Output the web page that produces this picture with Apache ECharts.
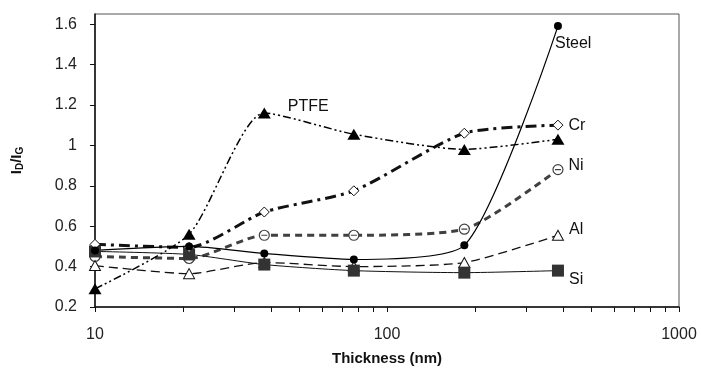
<!DOCTYPE html>
<html>
<head>
<meta charset="utf-8">
<script src="https://cdn.jsdelivr.net/npm/echarts@6/dist/echarts.min.js"></script>
<style>
  html, body { margin: 0; padding: 0; background: #fff; }
  #chart { width: 701px; height: 371px; }
</style>
</head>
<body>
<div id="chart"></div>
<script>
// thickness values (nm)
const thickness = [10, 21, 38, 77, 184, 385];

const steel = [0.48, 0.50, 0.465, 0.435, 0.505, 1.59];
const cr    = [0.51, 0.495, 0.67, 0.775, 1.06, 1.10];
const ni    = [0.45, 0.44, 0.555, 0.555, 0.585, 0.88];
const al    = [0.405, 0.365, 0.42, 0.40, 0.42, 0.555];
const si    = [0.475, 0.46, 0.41, 0.38, 0.37, 0.38];
const ptfe  = [0.29, 0.56, 1.16, 1.055, 0.98, 1.03];

const yTicks = [0.2, 0.4, 0.6, 0.8, 1, 1.2, 1.4, 1.6];
const xMinorTicks = [10, 20, 30, 40, 50, 60, 70, 80, 90, 100, 200, 300, 400, 500, 600, 700, 800, 900, 1000];

const FONT = 'Liberation Sans, Arial, sans-serif';

function points(values, labelText, labelIndex, labelOpts) {
  return values.map((v, i) => {
    const item = { value: [thickness[i], v] };
    if (i === labelIndex) {
      item.label = Object.assign({
        show: true,
        formatter: labelText,
        position: 'right',
        distance: 5,
        color: '#111',
        fontSize: 16,
        fontFamily: FONT
      }, labelOpts || {});
    }
    return item;
  });
}

function makeSeries(name, values, symbol, size, itemStyle, lineStyle, labelIndex, labelOpts) {
  return {
    name: name,
    type: 'line',
    smooth: 0.22,
    symbol: symbol,
    symbolSize: size,
    showAllSymbol: true,
    itemStyle: itemStyle,
    lineStyle: lineStyle,
    data: points(values, name, labelIndex, labelOpts)
  };
}

const chart = echarts.init(document.getElementById('chart'));

chart.setOption({
  animation: false,
  backgroundColor: '#fff',
  grid: {
    left: 95, right: 22, top: 14, bottom: 63,
    show: true,
    borderColor: '#555',
    borderWidth: 1
  },
  xAxis: {
    type: 'log',
    logBase: 10,
    min: 10,
    max: 1000,
    name: 'Thickness (nm)',
    nameLocation: 'middle',
    nameGap: 44,
    nameTextStyle: { fontFamily: FONT, fontSize: 15, fontWeight: 'bold', color: '#111' },
    axisLine: { show: true, lineStyle: { color: '#111', width: 1.5 } },
    axisTick: { show: true, inside: false, length: 5, customValues: xMinorTicks, lineStyle: { color: '#111' } },
    axisLabel: { fontFamily: FONT, fontSize: 16, color: '#222', margin: 20, formatter: (v) => String(Math.round(v)) },
    splitLine: { show: false },
    minorTick: { show: false }
  },
  yAxis: {
    type: 'value',
    min: 0.2,
    max: 1.65,
    name: '{b|I}{s|D}{b|/I}{s|G}',
    nameLocation: 'middle',
    nameGap: 70,
    nameTextStyle: {
      rich: {
        b: { fontFamily: FONT, fontSize: 15, fontWeight: 'bold', color: '#111' },
        s: { fontFamily: FONT, fontSize: 10, fontWeight: 'bold', color: '#111', padding: [7, 0, 0, 0] }
      }
    },
    axisLine: { show: true, lineStyle: { color: '#111', width: 1.5 } },
    axisTick: { show: true, inside: false, length: 5, customValues: yTicks, lineStyle: { color: '#111' } },
    axisLabel: { fontFamily: FONT, fontSize: 16, color: '#222', margin: 18, customValues: yTicks },
    splitLine: { show: false }
  },
  series: [
    makeSeries('Ni', ni,
      'path://M10,0 A10,10 0 1,1 10,20 A10,10 0 1,1 10,0 Z M4,10 L16,10', 10,
      { color: '#fff', borderColor: '#404040', borderWidth: 1.2 },
      { color: '#404040', width: 3, type: [7, 5] },
      5, { offset: [0, -4] }),
    makeSeries('Al', al, 'triangle', [11, 10],
      { color: '#fff', borderColor: '#111', borderWidth: 1 },
      { color: '#111', width: 1.3, type: [9, 5] },
      5, { offset: [0, -6] }),
    makeSeries('Si', si, 'rect', 12,
      { color: '#333' },
      { color: '#111', width: 1 },
      5, { offset: [0, 9] }),
    makeSeries('Cr', cr, 'diamond', 10,
      { color: '#fff', borderColor: '#111', borderWidth: 1 },
      { color: '#111', width: 3, type: [11, 5, 3, 5] },
      5, { offset: [0, 0] }),
    makeSeries('Steel', steel, 'circle', 8,
      { color: '#000' },
      { color: '#000', width: 1.2 },
      5, { offset: [-12, 17] }),
    makeSeries('PTFE', ptfe, 'triangle', [13, 11],
      { color: '#000' },
      { color: '#000', width: 1.5, type: [8, 3, 2, 3, 2, 3] },
      2, { offset: [12, -6] })
  ]
});
</script>
</body>
</html>
